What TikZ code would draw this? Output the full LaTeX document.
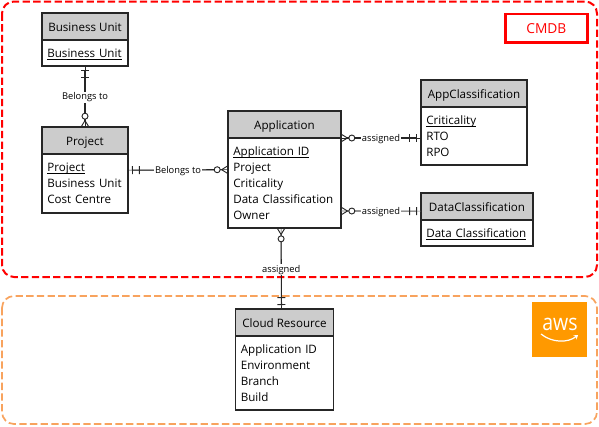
\documentclass[tikz,border=0pt]{standalone}
\usepackage{fontspec}
\setmainfont{Open Sans}
\usetikzlibrary{arrows.meta,positioning}
\definecolor{cmdbred}{HTML}{FF0000}
\definecolor{awsline}{HTML}{F8A35E}
\definecolor{awsorange}{HTML}{FF9900}
\definecolor{headgray}{HTML}{CCCCCC}
\definecolor{linedark}{HTML}{262626}
\newcommand{\keyattr}[1]{\setbox0\hbox{#1}\rlap{\rule[-1.6pt]{\wd0}{0.6pt}}#1}
\begin{document}
\begin{tikzpicture}[x=0.75pt,y=-0.75pt,node distance=0pt,
  oneline/.style={text height=7.6pt,text depth=0.4pt},
  head/.style={oneline,draw=linedark,line width=0.8pt,fill=headgray,anchor=north west,outer sep=0pt,minimum width=#1,minimum height=20.25pt,inner sep=0pt,font=\fontsize{8.7}{12}\selectfont},
  attrs/.style={draw=linedark,line width=0.8pt,fill=white,outer sep=0pt,inner xsep=4pt,inner ysep=3pt,align=left,text width=#1,font=\fontsize{8.7}{12}\selectfont},
  lab/.style={fill=white,inner sep=0.8pt,yshift=-0.8pt,font=\fontsize{7}{8}\selectfont},
  rel/.style={line width=0.8pt,draw=#1,preaction={draw=#1,-}},
  onemany/.style={rel=#1,{Bar[width=6pt,line width=0.7pt,color=linedark,sep=3pt]Bar[width=6pt,line width=0.7pt,color=linedark,sep=4.5pt]Bar[width=0pt,line width=0pt]}-{Circle[fill=white,color=linedark,length=5.2pt,line width=0.7pt]Straight Barb[reversed,color=linedark,length=4.5pt,width=5.5pt,line width=0.7pt]}},
  onemany/.default=linedark,
  frame/.style={dashed,dash pattern=on 5.5pt off 2.5pt,rounded corners=9pt}]
\useasboundingbox (0,0) rectangle (599,426);
\draw[frame,draw=cmdbred,line width=1.5pt] (2,1.5) rectangle (597,277);
\draw[frame,draw=awsline,line width=1.3pt] (2,296) rectangle (597,424);
\node[draw=cmdbred,line width=2pt,text=cmdbred,minimum width=61.5pt,minimum height=21.3pt,inner sep=0pt,anchor=north west,font=\fontsize{10.3}{12}\selectfont] (cmdb) at (504,12.7) {CMDB};

\node[head=64.5pt] (unitHead) at (42,13) {Business Unit};
\node[attrs=56.5pt,oneline,below=of unitHead,minimum height=19.5pt] (unitBody) {\keyattr{Business Unit}};
\node[head=64.5pt] (projHead) at (42,127) {Project};
\node[attrs=56.5pt,below=of projHead,minimum height=44.25pt] (projBody) {\keyattr{Project}\\Business Unit\\Cost Centre};
\node[head=84.75pt] (appHead) at (228,111) {Application};
\node[attrs=76.75pt,below=of appHead,minimum height=67.5pt] (appBody) {\keyattr{Application ID}\\Project\\Criticality\\Data Classification\\Owner};
\node[head=79.5pt] (clsHead) at (421,80) {AppClassification};
\node[attrs=71.5pt,below=of clsHead,minimum height=43.5pt] (clsBody) {\keyattr{Criticality}\\RTO\\RPO};
\node[head=84pt] (dataHead) at (421,193) {DataClassification};
\node[attrs=76pt,oneline,below=of dataHead,minimum height=19.5pt] (dataBody) {\keyattr{Data Classification}};
\node[head=73.5pt] (cloudHead) at (235.5,309) {Cloud Resource};
\node[attrs=65.5pt,below=of cloudHead,minimum height=55.5pt] (cloudBody) {Application ID\\Environment\\Branch\\Build};

\draw[onemany] (unitBody.south) -- node[lab,pos=0.5] (lblUnit) {Belongs to} (projHead.north);
\draw[onemany] ([yshift=10pt]projBody.east) -- node[lab,pos=0.5] (lblProj) {Belongs to} ([yshift=10pt]appBody.west);
\draw[onemany] ([yshift=-1.5pt]clsBody.west) -- node[lab,pos=0.5] (lblCls) {assigned} (appBody.north east);
\draw[onemany=black!55] ([yshift=-3.4pt]dataHead.west) -- node[lab,pos=0.5] (lblData) {assigned} ([yshift=-21pt]appBody.east);
\draw[onemany] ([xshift=-2.25pt]cloudHead.north) -- node[lab,pos=0.5] (lblCloud) {assigned} ([xshift=-2.6pt]appBody.south);

\fill[awsorange] (532,302) rectangle (587,357);
\node[text=white,inner sep=0pt,font=\fontsize{17}{17}\selectfont,xscale=0.86,transform shape] (awsText) at (560,324) {aws};
\draw[white,line width=0.9pt,-{Stealth[length=3pt,width=4pt]}] (541,334) .. controls (552,343) and (568,343) .. (578,335);
\end{tikzpicture}
\end{document}
